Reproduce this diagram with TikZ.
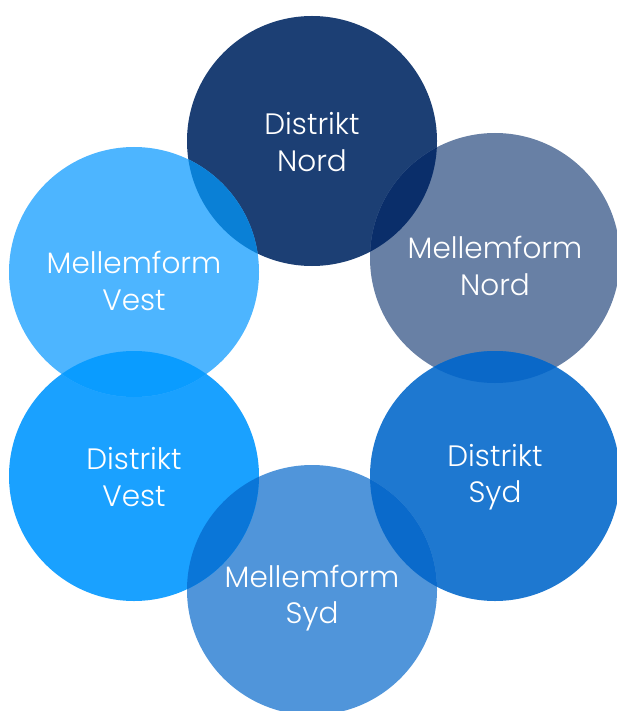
\documentclass[tikz,border=0pt]{standalone}
\usepackage{fontspec}
\setmainfont{Poppins}[UprightFont=* Light]
\definecolor{cDN}{HTML}{1C3F74}
\definecolor{cMN}{HTML}{6880A5}
\definecolor{cDS}{HTML}{1E78D0}
\definecolor{cMS}{HTML}{5095DA}
\definecolor{cDV}{HTML}{1AA1FF}
\definecolor{cMV}{HTML}{4DB5FF}
\definecolor{oDNMN}{HTML}{0A2E6A}
\definecolor{oMNDS}{HTML}{0A68C8}
\definecolor{oDSMS}{HTML}{0A6ACB}
\definecolor{oMSDV}{HTML}{0A76D8}
\definecolor{oDVMV}{HTML}{0A9CFF}
\definecolor{oMVDN}{HTML}{0A80D6}
\tikzset{
  disc/.style={circle, minimum size=250pt, inner sep=0pt, fill=#1},
  lbl/.style={text=white, align=center, font=\fontsize{29.5}{36.5}\selectfont},
}
\newcommand{\lens}[3]{%
  \begin{scope}
    \clip (#1.center) circle (125pt);
    \fill[#3] (#2.center) circle (125pt);
  \end{scope}}
\begin{document}
\begin{tikzpicture}[x=1pt,y=-1pt]
\useasboundingbox (0,0) rectangle (617,711);
\clip (0,0) rectangle (617,711);
\node[disc=cDN] (dn) at (312,141) {};
\node[disc=cMN] (mn) at (495,258) {};
\node[disc=cDS] (ds) at (495,476) {};
\node[disc=cMS] (ms) at (312,590) {};
\node[disc=cDV] (dv) at (134,476) {};
\node[disc=cMV] (mv) at (134,272) {};
\lens{dn}{mn}{oDNMN}
\lens{mn}{ds}{oMNDS}
\lens{ds}{ms}{oDSMS}
\lens{ms}{dv}{oMSDV}
\lens{dv}{mv}{oDVMV}
\lens{mv}{dn}{oMVDN}
\node[lbl] (tdn) at ([yshift=-1pt]dn.center) {Distrikt\\Nord};
\node[lbl] (tmn) at ([yshift=-8pt]mn.center) {Mellemform\\Nord};
\node[lbl] (tds) at ([yshift=-1pt]ds.center) {Distrikt\\Syd};
\node[lbl] (tms) at ([yshift=-8pt]ms.center) {Mellemform\\Syd};
\node[lbl] (tdv) at ([yshift=-1pt]dv.center) {Distrikt\\Vest};
\node[lbl] (tmv) at ([yshift=-9pt]mv.center) {Mellemform\\Vest};
\end{tikzpicture}
\end{document}
